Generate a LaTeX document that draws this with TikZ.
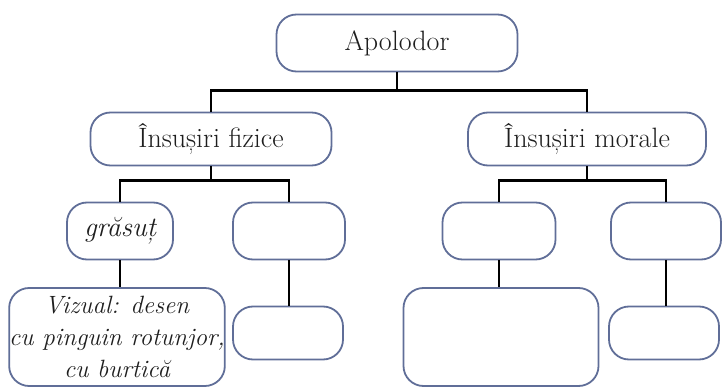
\documentclass[tikz,border=0pt]{standalone}
\usepackage{fontspec}
\usepackage{xcolor}
\usepackage{tikz}
\usetikzlibrary{positioning,calc}

\definecolor{boxline}{RGB}{96,110,152}
\definecolor{inkgrey}{RGB}{30,30,30}

\begin{document}
\begin{tikzpicture}[x=1pt,y=-1pt,
    topic/.style={draw=boxline,line width=1.8pt,rounded corners=20pt,
        inner sep=0pt,text=inkgrey,font=\fontsize{28}{32}\selectfont},
    link/.style={draw=black,line width=2.3pt}]
    \useasboundingbox (0,0) rectangle (722,387);

    % root and the two groups
    \node[topic,minimum width=241pt,minimum height=57pt] (apolodor) at (397,43) {Apolodor};
    \node[topic,minimum width=241pt,minimum height=53pt] (fizice) at (211,139) {Însușiri fizice};
    \node[topic,minimum width=238pt,minimum height=53pt] (morale) at (587,139) {Însușiri morale};

    % third row
    \node[topic,minimum width=106pt,minimum height=57pt,font=\fontsize{28}{32}\selectfont\itshape] (grasut) at (120,231) {grăsuț};
    \node[topic,minimum width=112pt,minimum height=57pt] (fizdoi) at (289,231) {};
    \node[topic,minimum width=113pt,minimum height=57pt] (morunu) at (499,231) {};
    \node[topic,minimum width=110pt,minimum height=57pt] (mordoi) at (666,231) {};

    % last row
    \node[topic,minimum width=209pt,minimum height=98pt,align=center,
        font=\fontsize{25}{32}\selectfont\itshape] (vizual) at (117,337)
        {Vizual: desen\\cu pinguin rotunjor,\\cu burtică};
    \node[topic,minimum width=110pt,minimum height=53pt] (fiztrei) at (288,333) {};
    \node[topic,minimum width=195pt,minimum height=98pt] (mortrei) at (501,337) {};
    \node[topic,minimum width=110pt,minimum height=53pt] (morpatru) at (664,333) {};

    % connectors
    \draw[link] (apolodor.south) -- ++(0,18) coordinate (rj);
    \draw[link] (fizice.north) |- (rj) -| (morale.north);
    \draw[link] (fizice.south) -- ++(0,14) coordinate (fj);
    \draw[link] (grasut.north) |- (fj) -| (fizdoi.north);
    \draw[link] (morale.south) -- ++(0,14) coordinate (mj);
    \draw[link] (morunu.north) |- (mj) -| (mordoi.north);
    \draw[link] (grasut.south) -- (grasut.south |- vizual.north);
    \draw[link] (fizdoi.south) -- (fizdoi.south |- fiztrei.north);
    \draw[link] (morunu.south) -- (morunu.south |- mortrei.north);
    \draw[link] (mordoi.south) -- (mordoi.south |- morpatru.north);
\end{tikzpicture}
\end{document}
